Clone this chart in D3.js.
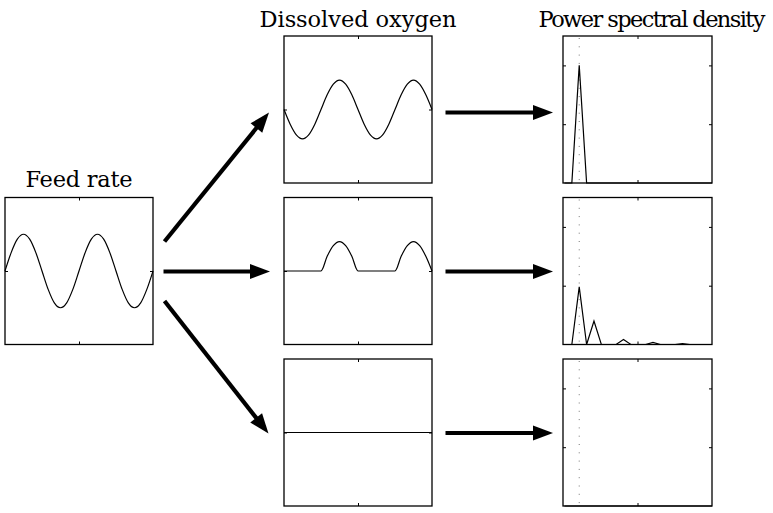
<!DOCTYPE html>
<html>
<head>
<meta charset="utf-8">
<script src="https://cdn.jsdelivr.net/npm/d3@7"></script>
<style>
  html, body { margin: 0; padding: 0; background: #fff; }
  svg { display: block; }
</style>
</head>
<body>
<svg id="chart" width="773" height="513"></svg>
<script>
// ---------------- data ----------------
// samples every 1/12 of a period over two periods (25 points)
const feedRate = [0, 0.5, 0.866, 1, 0.866, 0.5, 0, -0.5, -0.866, -1, -0.866, -0.5,
                  0, 0.5, 0.866, 1, 0.866, 0.5, 0, -0.5, -0.866, -1, -0.866, -0.5, 0];
const doSine   = [0, -0.4, -0.69, -0.8, -0.69, -0.4, 0, 0.4, 0.69, 0.8, 0.69, 0.4,
                  0, -0.4, -0.69, -0.8, -0.69, -0.4, 0, 0.4, 0.69, 0.8, 0.69, 0.4, 0];
const doClipped= [0, 0, 0, 0, 0, 0, 0, 0.4, 0.69, 0.8, 0.69, 0.4,
                  0, 0, 0, 0, 0, 0, 0, 0.4, 0.69, 0.8, 0.69, 0.4, 0];
const doFlat   = [0, 0, 0, 0, 0, 0, 0, 0, 0, 0, 0, 0,
                  0, 0, 0, 0, 0, 0, 0, 0, 0, 0, 0, 0, 0];
// spectra, frequency bins 0..20
const psdSine    = [0, 0, 1.0, 0, 0, 0, 0, 0, 0, 0, 0, 0, 0, 0, 0, 0, 0, 0, 0, 0, 0];
const psdClipped = [0, 0, 0.49, 0, 0.2, 0, 0, 0, 0.042, 0, 0, 0, 0.018, 0, 0, 0, 0.008, 0, 0, 0, 0];
const psdFlat    = [0, 0, 0, 0, 0, 0, 0, 0, 0, 0, 0, 0, 0, 0, 0, 0, 0, 0, 0, 0, 0];
const forcingBin = 2;
const titles = ["Feed rate", "Dissolved oxygen", "Power spectral density"];

// ---------------- layout ----------------
const svg = d3.select("#chart");
const PW = 148, PH = 147;
const rowsY = [36, 197.5, 359];
const feedBox = {x: 5, y: 197.5};
const doX = 284, psdX = 563;

const tIdx = d3.range(feedRate.length).map(i => i / 12); // time in periods

function framePanel(g, w, h, xs, ys, xt, yt) {
  const tick = 3;
  g.append("g").attr("transform", `translate(0,${h})`)
    .call(d3.axisBottom(xs).tickValues(xt).tickSizeInner(-tick).tickSizeOuter(0).tickFormat(""));
  g.append("g")
    .call(d3.axisTop(xs).tickValues(xt).tickSizeInner(-tick).tickSizeOuter(0).tickFormat(""));
  g.append("g")
    .call(d3.axisLeft(ys).tickValues(yt).tickSizeInner(-tick).tickSizeOuter(0).tickFormat(""));
  g.append("g").attr("transform", `translate(${w},0)`)
    .call(d3.axisRight(ys).tickValues(yt).tickSizeInner(-tick).tickSizeOuter(0).tickFormat(""));
  g.selectAll(".domain").remove();
  g.selectAll(".tick line").attr("stroke", "#000").attr("stroke-width", 1);
  g.append("rect").attr("width", w).attr("height", h)
    .attr("fill", "none").attr("stroke", "#000").attr("stroke-width", 1.3);
}

function timePanel(x, y, values) {
  const g = svg.append("g").attr("transform", `translate(${x},${y})`);
  const xs = d3.scaleLinear().domain([0, 2]).range([0, PW]);
  const ys = d3.scaleLinear().domain([-2, 2]).range([PH, 0]);
  const line = d3.line().x((d, i) => xs(tIdx[i])).y(d => ys(d)).curve(d3.curveMonotoneX);
  g.append("path").datum(values).attr("d", line)
    .attr("fill", "none").attr("stroke", "#000").attr("stroke-width", 1.2);
  framePanel(g, PW, PH, xs, ys, [1], [0]);
}

function psdPanel(x, y, values) {
  const w = 149;
  const g = svg.append("g").attr("transform", `translate(${x},${y})`);
  const xs = d3.scaleLinear().domain([-0.2, 20]).range([0, w]);
  const ys = d3.scaleLinear().domain([0, 1.25]).range([PH, 0]);
  g.append("line")
    .attr("x1", xs(forcingBin)).attr("x2", xs(forcingBin))
    .attr("y1", 2).attr("y2", PH)
    .attr("stroke", "#777").attr("stroke-width", 1).attr("stroke-dasharray", "1,7.3");
  const line = d3.line().x((d, i) => xs(i)).y(d => ys(d));
  g.append("path").datum(values).attr("d", line)
    .attr("fill", "none").attr("stroke", "#000").attr("stroke-width", 1.2);
  framePanel(g, w, PH, xs, ys, [9.9], [0.5, 1.0]);
}

timePanel(feedBox.x, feedBox.y, feedRate);
[doSine, doClipped, doFlat].forEach((v, i) => timePanel(doX, rowsY[i], v));
[psdSine, psdClipped, psdFlat].forEach((v, i) => psdPanel(psdX, rowsY[i], v));

// ---------------- arrows ----------------
function arrow(x1, y1, x2, y2) {
  const dx = x2 - x1, dy = y2 - y1, L = Math.hypot(dx, dy);
  const ux = dx / L, uy = dy / L;
  const headL = 20, headW = 7.5;
  const bx = x2 - ux * headL, by = y2 - uy * headL;
  svg.append("line").attr("x1", x1).attr("y1", y1)
    .attr("x2", bx + ux * 2).attr("y2", by + uy * 2)
    .attr("stroke", "#000").attr("stroke-width", 4.2);
  svg.append("path")
    .attr("d", `M${x2},${y2}L${bx - uy * headW},${by + ux * headW}L${bx + uy * headW},${by - ux * headW}Z`)
    .attr("fill", "#000");
}
arrow(164.5, 241.5, 269, 112.5);
arrow(163.5, 271.5, 270, 271.5);
arrow(164.5, 301, 268.5, 433.5);
[112.5, 271.5, 433].forEach(y => arrow(445.5, y, 553, y));

// ---------------- titles ----------------
const font = "'DejaVu Serif', serif";
svg.append("text").attr("x", 79).attr("y", 187).attr("text-anchor", "middle")
  .attr("font-family", font).attr("font-size", 22.5)
  .attr("textLength", 107).attr("lengthAdjust", "spacing").text(titles[0]);
svg.append("text").attr("x", 358).attr("y", 27).attr("text-anchor", "middle")
  .attr("font-family", font).attr("font-size", 22.5)
  .attr("textLength", 197).attr("lengthAdjust", "spacing").text(titles[1]);
svg.append("text").attr("x", 652).attr("y", 27).attr("text-anchor", "middle")
  .attr("font-family", font).attr("font-size", 22.5)
  .attr("textLength", 227).attr("lengthAdjust", "spacing").text(titles[2]);
</script>
</body>
</html>
